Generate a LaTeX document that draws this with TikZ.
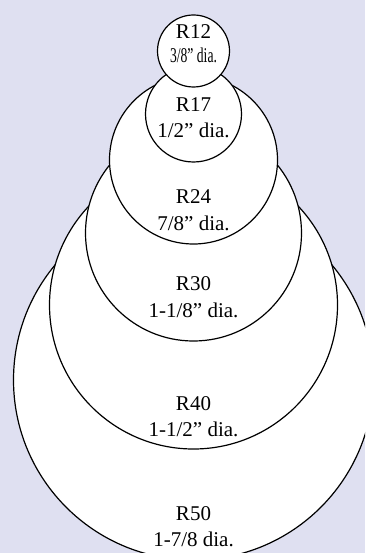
\documentclass[tikz,border=0pt]{standalone}
\usepackage{fontspec}
\usepackage{graphicx}
\setmainfont{Liberation Serif}
\definecolor{bgc}{RGB}{223,224,241}
\begin{document}
\begin{tikzpicture}[x=1pt,y=-1pt]
\tikzset{
  ring/.style={circle,draw=black,fill=white,line width=1.2pt,inner sep=0pt,minimum size=#1},
  lbl/.style={anchor=base,inner sep=0pt,font=\fontsize{21}{25}\selectfont}
}
\fill[bgc] (0,0) rectangle (365,553);
\useasboundingbox (0,0) rectangle (365,553);
\clip (0,0) rectangle (365,553);
\node[ring=360pt] (c50) at (193.5,380) {};
\node[ring=288pt] (c40) at (193.5,305) {};
\node[ring=216pt] (c30) at (193.5,233) {};
\node[ring=168pt] (c24) at (193.5,160) {};
\node[ring=96pt]  (c17) at (193.5,114) {};
\node[ring=72pt]  (c12) at (193.5,51) {};
\node[lbl] (n12) at (193.5,38.5) {R12};
\node[lbl] (d12) at (193.5,63) {\scalebox{0.65}[1]{3/8” dia.}};
\node[lbl] (n17) at (193.5,111.5) {R17};
\node[lbl] (d17) at (193.5,138) {1/2” dia.};
\node[lbl] (n24) at (193.5,204) {R24};
\node[lbl] (d24) at (193.5,230.5) {7/8” dia.};
\node[lbl] (n30) at (193.5,290) {R30};
\node[lbl] (d30) at (193.5,317) {1-1/8” dia.};
\node[lbl] (n40) at (193.5,410) {R40};
\node[lbl] (d40) at (193.5,436.5) {1-1/2” dia.};
\node[lbl] (n50) at (193.5,520) {R50};
\node[lbl] (d50) at (193.5,546.5) {1-7/8 dia.};
\end{tikzpicture}
\end{document}
